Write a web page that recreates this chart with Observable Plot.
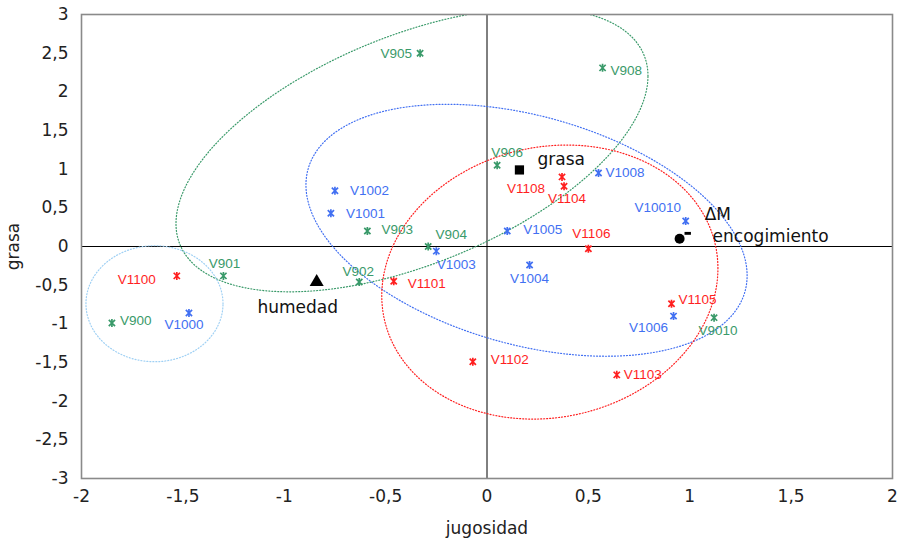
<!DOCTYPE html>
<html>
<head>
<meta charset="utf-8">
<script src="https://cdn.jsdelivr.net/npm/d3@7"></script>
<script src="https://cdn.jsdelivr.net/npm/@observablehq/plot@0.6"></script>
<style>
  html, body { margin: 0; padding: 0; background: #fff; }
  #chart svg { display: block; }
</style>
</head>
<body>
<div id="chart"></div>
<script>
// Muestras V9xx
const v9Names = ["V900", "V901", "V902", "V903", "V904", "V905", "V906", "V908", "V9010"];
const v9X = [-1.85, -1.30, -0.63, -0.59, -0.29, -0.33, 0.05, 0.57, 1.12];
const v9Y = [-0.99, -0.38, -0.46, 0.20, 0.00, 2.50, 1.05, 2.31, -0.92];

// Muestras V10xx
const v10Names = ["V1000", "V1001", "V1002", "V1003", "V1004", "V1005", "V1006", "V1008", "V10010"];
const v10X = [-1.47, -0.77, -0.75, -0.25, 0.21, 0.10, 0.92, 0.55, 0.98];
const v10Y = [-0.86, 0.43, 0.72, -0.06, -0.24, 0.20, -0.90, 0.95, 0.33];

// Muestras V11xx
const v11Names = ["V1100", "V1101", "V1102", "V1103", "V1104", "V1105", "V1106", "V1108"];
const v11X = [-1.53, -0.46, -0.07, 0.64, 0.38, 0.91, 0.50, 0.37];
const v11Y = [-0.38, -0.45, -1.49, -1.66, 0.78, -0.74, -0.03, 0.90];

// Variables sensoriales / físicas
const varNames = ["grasa", "humedad", "encogimiento", "ΔM"];
const varX = [0.16, -0.84, 0.95, 0.99];
const varY = [0.99, -0.46, 0.10, 0.17];

// Elipses de agrupamiento: centro, semiejes en x / y, correlación
const ellipseGroups = ["V9", "V10", "V11", "V900-V1100"];
const ellipseCx = [-0.37, 0.195, 0.31, -1.64];
const ellipseCy = [1.25, 0.21, -0.46, -0.74];
const ellipseSx = [1.164, 1.088, 0.829, 0.338];
const ellipseSy = [1.836, 1.629, 1.772, 0.750];
const ellipseR = [0.52, -0.36, 0.10, 0.0];

// Marcas de los ejes
const xTicks = [-2, -1.5, -1, -0.5, 0, 0.5, 1, 1.5, 2];
const yTicks = [-3, -2.5, -2, -1.5, -1, -0.5, 0, 0.5, 1, 1.5, 2, 2.5, 3];

// ---- estilos ----
const GREEN = "#3a9a6a";
const BLUE = "#4270f2";
const RED = "#ff1f1f";
const LIGHTBLUE = "#9fd0f4";
const ellipseColors = [GREEN, BLUE, RED, LIGHTBLUE];
const AXIS_FONT = "DejaVu Sans, Verdana, sans-serif";

// colocación de etiquetas: [anclaje, dx, dy]
const labelPlacement = {
  V905: ["end", -8, 1], V908: ["start", 8, 3], V906: ["middle", 10, -13],
  V903: ["start", 14, -1], V904: ["middle", 23, -12], V902: ["middle", -1, -10],
  V901: ["middle", 1, -12], V900: ["start", 8, -2], V9010: ["middle", 4, 13],
  V1002: ["start", 15, 0], V1001: ["start", 15, 0], V1003: ["middle", 20, 14],
  V1004: ["middle", 0, 14], V1005: ["start", 16, -1], V1008: ["start", 7, 0],
  V10010: ["middle", -28, -13], V1006: ["middle", -25, 12], V1000: ["middle", -5, 12],
  V1100: ["end", -21, 4], V1101: ["start", 14, 2], V1102: ["start", 18, -2],
  V1103: ["start", 7, 0], V1104: ["middle", 3, 12], V1108: ["middle", -36, 12],
  V1106: ["middle", 3, -15], V1105: ["start", 7, -4],
  "grasa": ["start", 18, -10], "humedad": ["middle", -19, 25],
  "encogimiento": ["start", 33, -2], "ΔM": ["start", 17, -19]
};

const fmt = d => String(d).replace(".", ",");

const toRows = (names, xs, ys) => names.map((n, i) => ({name: n, x: xs[i], y: ys[i]}));
const v9 = toRows(v9Names, v9X, v9Y);
const v10 = toRows(v10Names, v10X, v10Y);
const v11 = toRows(v11Names, v11X, v11Y);
const vars = toRows(varNames, varX, varY);

// asterisco tipo estrella: aspa + barra vertical
const starSymbol = {
  draw(ctx, size) {
    const r = Math.sqrt(size / Math.PI);
    const d = r * 0.78;
    ctx.moveTo(0, -r); ctx.lineTo(0, r);
    ctx.moveTo(-d, -d); ctx.lineTo(d, d);
    ctx.moveTo(-d, d); ctx.lineTo(d, -d);
  }
};
// guion corto
const dashSymbol = {
  draw(ctx, size) {
    const r = Math.sqrt(size / Math.PI);
    ctx.rect(-r, -r * 0.45, 2 * r, r * 0.9);
  }
};
const varSymbol = {"grasa": "square", "humedad": "triangle", "encogimiento": "circle", "ΔM": dashSymbol};
const varRadius = {"grasa": 5.2, "humedad": 5.2, "encogimiento": 5, "ΔM": 3.2};

// contorno de cada elipse a partir de sus parámetros
function ellipseOutline(i) {
  const k = Math.sqrt(1 - ellipseR[i] * ellipseR[i]);
  return d3.range(0, 360, 1.5).map(a => {
    const t = a * Math.PI / 180;
    return {
      x: ellipseCx[i] + ellipseSx[i] * Math.cos(t),
      y: ellipseCy[i] + ellipseSy[i] * (ellipseR[i] * Math.cos(t) + k * Math.sin(t))
    };
  });
}

const ellipseMarks = ellipseGroups.map((g, i) =>
  Plot.line(ellipseOutline(i), {
    x: "x", y: "y", curve: "linear-closed", clip: true,
    stroke: ellipseColors[i], strokeWidth: 1.2, strokeDasharray: "1 2"
  })
);

function labelMarks(rows, color, font, size) {
  return rows.map(d => {
    const [anchor, dx, dy] = labelPlacement[d.name];
    return Plot.text([d], {
      x: "x", y: "y", text: "name", textAnchor: anchor, dx, dy,
      fill: color, fontFamily: font, fontSize: size
    });
  });
}

const sampleFont = "Liberation Sans, Arial, sans-serif";

const chart = Plot.plot({
  width: 900,
  height: 539,
  marginLeft: 81,
  marginRight: 8,
  marginTop: 14,
  marginBottom: 61,
  style: {fontFamily: AXIS_FONT, fontSize: "17px", color: "#222", background: "#fff"},
  x: {domain: [-2, 2]},
  y: {domain: [-3, 3]},
  marks: [
    Plot.axisX({ticks: xTicks, tickFormat: fmt, tickSize: 0, tickPadding: 11,
      fontSize: 17, fontFamily: AXIS_FONT, fill: "#222",
      label: "jugosidad", labelAnchor: "center", labelArrow: "none", labelOffset: 55}),
    Plot.axisY({ticks: yTicks, tickFormat: fmt, tickSize: 0, tickPadding: 13,
      fontSize: 17, fontFamily: AXIS_FONT, fill: "#222",
      label: "grasa", labelAnchor: "center", labelArrow: "none", labelOffset: 75}),
    Plot.ruleX([0], {stroke: "#000", strokeWidth: 1}),
    Plot.ruleY([0], {stroke: "#000", strokeWidth: 1}),
    ...ellipseMarks,
    Plot.frame({stroke: "#8a8a8a", strokeWidth: 1.6}),
    Plot.dot(v9, {x: "x", y: "y", symbol: starSymbol, r: 4, fill: "none", stroke: GREEN, strokeWidth: 1.7}),
    Plot.dot(v10, {x: "x", y: "y", symbol: starSymbol, r: 4, fill: "none", stroke: BLUE, strokeWidth: 1.7}),
    Plot.dot(v11, {x: "x", y: "y", symbol: starSymbol, r: 4, fill: "none", stroke: RED, strokeWidth: 1.7}),
    ...vars.map(d => Plot.dot([d], {x: "x", y: "y", symbol: varSymbol[d.name], r: varRadius[d.name], fill: "#000", stroke: "none"})),
    ...labelMarks(v9, GREEN, sampleFont, 13.5),
    ...labelMarks(v10, BLUE, sampleFont, 13.5),
    ...labelMarks(v11, RED, sampleFont, 13.5),
    ...labelMarks(vars, "#111", AXIS_FONT, 17)
  ]
});

document.getElementById("chart").appendChild(chart);
</script>
</body>
</html>
